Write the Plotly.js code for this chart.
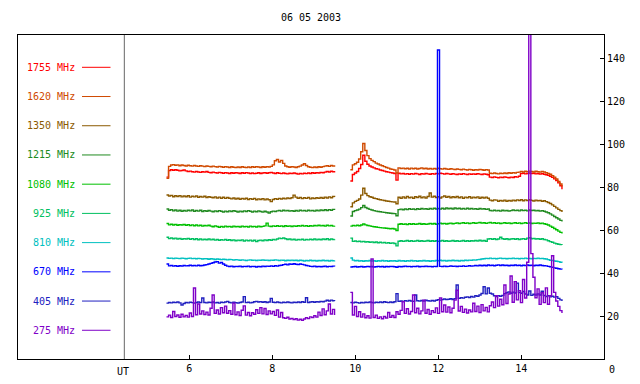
<!DOCTYPE html>
<html><head><meta charset="utf-8">
<script src="https://cdn.plot.ly/plotly-3.0.1.min.js"></script>
<style>html,body{margin:0;padding:0;background:#fff}#chart{width:640px;height:384px}</style>
</head><body><div id="chart"></div>
<script>
// ---- data ----
const freqLabels = ['1755 MHz','1620 MHz','1350 MHz','1215 MHz','1080 MHz','925 MHz','810 MHz','670 MHz','405 MHz','275 MHz'];
const seriesColors = ['#ff0000','#d04a00','#8b5a00','#208a20','#00c000','#00c060','#00c0c0','#0000ff','#2020c0','#7f00c8'];
const xTickVals = [6, 8, 10, 12, 14];
const yTickVals = [20, 40, 60, 80, 100, 120, 140];
const chartTitle = '06 05 2003';
const seg1Start = 5.45, seg2Start = 9.88, sampleStep = 0.05; // hours UT

// segment 1 (82 samples)
const s1_1755 = [84.6,87.7,88.0,87.8,88.0,87.8,87.5,87.7,87.9,87.5,
 87.2,87.4,87.1,86.9,87.2,87.0,86.8,87.1,86.9,87.2,
 86.8,86.6,86.9,86.7,86.5,86.8,86.6,86.4,86.7,86.5,
 86.3,86.6,86.4,86.7,86.5,86.3,86.6,86.4,86.7,86.5,
 86.3,86.5,86.2,86.4,86.6,86.3,86.5,86.7,86.4,86.6,
 86.8,86.5,86.3,86.6,86.4,86.2,86.5,86.3,86.1,86.4,
 86.2,86.5,86.3,86.0,86.3,86.1,86.4,86.2,86.5,86.3,
 86.6,86.4,86.7,86.5,86.8,86.6,86.9,87.2,87.0,87.3,
 87.1,87.4];
const s1_1620 = [84.0,89.6,90.2,90.4,90.1,90.3,89.9,90.2,90.0,89.8,
 90.1,89.9,89.7,90.0,89.8,89.6,89.9,89.7,89.5,89.8,
 89.6,89.4,89.7,89.5,89.3,89.6,89.4,89.2,89.5,89.3,
 89.1,89.4,89.2,89.0,89.3,89.1,89.4,89.2,89.0,89.3,
 89.1,89.4,89.2,89.5,89.3,89.1,89.4,89.2,89.5,89.3,
 89.6,90.3,92.2,92.8,91.6,92.4,91.0,89.8,89.4,89.2,
 89.5,89.3,89.1,89.4,89.7,90.2,90.8,90.0,89.4,89.2,
 89.0,89.3,89.1,89.4,89.2,89.5,89.7,89.9,89.6,90.0,
 89.8,90.1];
const s1_1350 = [76.3,75.8,76.1,75.5,75.9,75.6,76.0,75.4,75.8,75.5,
 75.9,75.3,75.7,75.4,75.8,75.2,75.6,75.3,75.7,75.1,
 75.5,75.2,75.0,75.4,74.9,75.3,74.8,75.2,74.7,75.1,
 74.8,74.5,74.9,74.4,74.8,74.3,74.7,74.4,74.8,74.2,
 74.6,74.3,74.7,74.1,74.5,74.2,74.6,74.0,74.4,74.1,
 73.2,74.2,74.6,74.3,74.7,74.4,74.8,74.5,74.9,74.6,
 75.0,76.2,75.3,74.8,75.1,74.6,75.0,74.7,75.1,74.5,
 74.9,74.6,75.0,74.7,75.1,74.8,75.3,74.9,75.4,75.0,
 75.6,75.3];
const s1_1215 = [69.8,69.2,69.5,68.9,69.3,68.8,69.2,68.7,69.1,68.8,
 69.2,68.9,69.3,68.7,69.1,68.8,69.2,68.6,69.0,68.7,
 69.1,68.8,68.5,68.9,68.6,69.0,68.7,68.4,68.8,68.5,
 68.9,68.6,69.0,68.7,68.4,68.8,68.5,68.9,68.6,69.0,
 68.7,68.4,68.8,68.5,68.9,68.6,68.3,68.7,68.4,67.9,
 68.5,68.8,68.6,68.9,69.1,68.8,69.2,68.9,69.1,68.8,
 69.0,68.7,69.1,68.8,69.2,68.9,69.1,68.8,69.2,68.9,
 69.1,68.8,69.2,68.9,69.3,69.0,69.4,69.1,69.5,69.2,
 69.6,69.3];
const s1_1080 = [63.0,62.4,62.7,62.3,62.6,62.2,62.5,62.3,62.6,62.2,
 62.5,62.1,62.4,62.0,62.3,61.9,62.2,61.8,62.1,61.9,
 62.2,61.8,61.5,61.9,61.6,61.3,61.7,61.4,61.8,61.5,
 61.7,61.4,61.8,61.5,61.7,61.4,61.8,61.5,61.7,61.4,
 61.8,61.5,61.7,61.4,61.8,61.5,61.7,61.9,63.2,61.8,
 61.6,61.9,61.7,62.0,61.7,61.9,61.6,62.0,61.7,61.9,
 61.6,61.9,61.7,62.0,61.8,62.1,61.8,62.0,61.7,62.0,
 61.8,62.1,61.9,62.2,61.9,62.1,61.8,62.2,61.9,62.1,
 61.8,62.0];
const s1_925 = [56.6,56.0,56.3,55.9,56.2,55.8,56.1,55.7,56.0,55.8,
 56.1,55.7,56.0,55.6,55.9,55.5,55.8,55.4,55.7,55.5,
 55.8,55.4,55.7,55.3,55.6,55.2,55.5,55.3,55.6,55.2,
 55.5,55.1,55.4,55.0,55.3,55.1,55.4,54.9,55.3,55.0,
 55.3,54.9,55.2,54.6,55.1,55.3,55.0,55.4,55.1,55.5,
 55.2,55.6,55.4,55.8,56.2,56.0,56.3,55.9,55.6,55.8,
 55.4,55.7,55.3,55.6,55.4,55.7,55.3,55.6,55.4,55.7,
 55.5,55.8,55.4,55.7,55.5,55.8,55.6,55.9,55.5,55.8,
 55.6,55.7];
const s1_810 = [47.0,46.8,46.9,46.7,46.9,46.8,46.7,46.9,46.8,46.6,
 46.8,46.9,46.7,46.8,46.6,46.8,46.7,46.5,46.7,46.6,
 46.4,46.6,46.5,46.3,46.5,46.4,46.2,46.4,46.3,46.1,
 46.3,46.2,46.0,46.2,46.1,45.9,46.1,46.0,45.8,46.0,
 46.1,45.9,46.0,45.8,46.0,45.9,46.1,45.9,46.0,45.8,
 46.0,45.9,46.1,46.0,45.8,46.0,45.9,45.7,45.9,45.8,
 46.0,45.8,45.9,45.7,45.9,45.8,45.6,45.8,45.7,45.9,
 45.7,45.8,45.6,45.8,45.7,45.9,45.7,45.8,45.6,45.8,
 45.7,45.8];
const s1_670 = [44.2,43.3,43.5,43.2,43.4,43.1,43.4,43.2,43.5,43.3,
 43.4,43.6,43.4,43.5,43.3,43.6,43.4,43.5,43.7,43.9,
 44.2,44.5,44.8,45.1,45.3,44.6,44.9,44.2,43.6,43.2,
 43.0,43.2,42.9,43.1,43.0,43.2,42.9,43.1,43.0,43.2,
 42.9,43.1,43.0,42.8,43.1,42.9,43.2,43.0,43.2,43.1,
 43.3,43.1,43.4,43.2,43.5,43.6,43.9,44.1,43.8,44.2,
 44.0,44.3,44.1,43.9,44.2,44.0,43.8,43.5,43.3,43.1,
 43.0,43.2,42.9,43.1,42.9,43.0,43.2,42.9,43.1,43.0,
 43.2,43.0];
const s1_405 = [26.0,26.3,26.1,26.4,26.2,26.5,26.1,25.1,25.8,26.3,
 26.1,26.4,26.2,26.0,26.3,26.5,26.2,28.4,26.3,26.1,
 26.4,26.2,26.5,26.1,26.3,26.0,26.4,26.2,26.5,26.8,
 26.3,26.1,26.4,26.2,26.0,26.3,26.5,29.0,26.2,26.4,
 26.1,26.3,26.6,26.8,26.5,26.7,26.4,26.6,26.3,26.5,
 28.2,26.4,26.2,26.5,26.3,26.1,26.4,26.2,26.5,26.3,
 26.1,26.4,26.2,26.5,26.3,26.6,26.4,28.5,26.3,26.5,
 26.6,26.4,26.7,26.5,26.8,26.6,26.9,27.3,27.0,27.4,
 27.1,27.0];
const s1_275 = [19.6,20.4,19.3,22.1,19.8,20.5,19.4,20.8,19.6,20.3,
 19.5,21.4,19.8,33.0,20.6,25.6,20.9,22.4,20.7,21.8,
 20.5,23.6,29.8,21.2,22.8,20.9,23.9,21.5,24.6,21.3,
 22.5,20.8,26.0,20.6,21.9,20.2,22.7,24.7,20.4,21.6,
 20.1,21.5,20.8,22.9,21.2,23.9,21.0,23.5,20.7,22.4,
 21.0,22.1,20.3,22.8,19.5,21.6,19.2,18.9,19.4,18.6,
 18.9,18.3,18.7,18.1,18.5,18.0,18.6,19.2,18.8,19.6,
 19.3,20.1,19.5,21.8,20.2,23.3,20.6,22.4,25.6,20.9,
 23.1,20.5];

// segment 2 (103 samples)
const s2_1755 = [82.8,85.8,86.5,87.2,88.6,90.5,94.8,92.0,90.6,89.8,
 89.3,88.9,88.5,88.3,87.9,87.7,87.4,87.1,86.9,86.7,
 86.5,86.3,83.2,86.4,86.1,86.3,86.0,86.2,85.9,86.2,
 86.0,86.3,86.1,85.8,86.2,86.0,86.3,86.1,85.9,86.2,
 86.0,86.3,86.1,86.4,86.2,86.0,86.3,86.1,85.9,86.2,
 86.0,85.8,86.1,85.9,86.2,86.0,85.8,86.1,85.9,86.1,
 85.9,86.2,86.0,85.8,86.1,85.9,85.7,84.6,84.4,84.7,
 84.5,84.3,84.6,84.4,84.7,84.5,84.3,84.6,84.4,84.8,
 84.6,85.0,86.2,86.4,86.1,86.3,86.5,86.2,86.4,86.1,
 86.3,86.0,86.2,85.9,85.7,85.4,85.0,84.5,83.8,83.0,
 81.9,80.6,79.0];
const s2_1620 = [88.0,90.3,90.8,91.5,93.0,96.4,100.2,97.0,94.6,93.2,
 92.4,91.8,91.1,90.7,90.2,89.9,89.5,89.1,88.8,88.4,
 88.2,87.9,86.5,88.9,88.6,88.8,88.5,88.7,88.4,88.8,
 88.5,88.7,88.4,88.6,88.9,88.5,88.7,88.4,88.6,88.3,
 88.6,88.4,88.7,88.5,88.3,88.6,88.4,88.2,88.5,88.3,
 88.1,88.4,88.2,88.0,88.3,88.1,87.9,88.2,88.0,87.8,
 88.1,87.9,88.2,88.0,87.8,88.1,87.9,86.4,86.2,86.5,
 86.3,86.1,86.4,86.2,86.5,86.3,86.6,86.4,86.7,86.5,
 86.8,86.9,87.2,87.0,87.3,87.1,87.4,87.2,87.0,87.3,
 87.1,86.9,87.2,87.0,86.6,86.3,85.9,85.3,84.6,83.7,
 82.6,81.4,80.2];
const s2_1350 = [70.8,72.6,73.3,73.8,74.4,76.2,79.4,77.0,76.0,75.5,
 75.2,74.8,74.6,74.3,74.1,73.9,73.7,73.5,73.4,73.2,
 73.1,73.0,72.2,75.2,74.8,75.4,74.9,75.6,75.0,75.3,
 74.8,75.5,75.1,75.7,75.0,75.4,74.9,75.6,77.2,75.3,
 75.7,75.1,75.5,74.9,75.4,75.8,75.2,75.6,75.0,75.5,
 75.1,75.6,75.0,75.4,74.8,75.3,75.0,75.5,74.9,75.3,
 75.0,75.4,74.8,75.2,74.9,75.3,74.8,73.9,73.6,74.0,
 73.9,73.4,73.8,73.5,73.9,73.4,73.8,73.5,73.9,73.6,
 74.0,73.7,74.1,73.6,74.0,73.7,74.1,73.8,73.5,73.9,
 73.6,73.8,73.4,73.6,73.2,72.8,72.3,71.7,71.0,70.3,
 69.6,69.0,68.4];
const s2_1215 = [66.5,68.6,69.0,69.3,69.7,70.4,71.4,70.5,70.0,69.6,
 69.3,69.0,68.8,68.6,68.5,68.3,68.2,68.0,67.9,67.8,
 67.7,67.6,66.6,69.5,69.7,69.4,69.8,69.5,69.9,69.6,
 69.8,69.5,69.9,69.6,70.0,69.7,69.9,69.6,70.0,69.7,
 70.1,69.8,70.0,69.7,70.1,69.8,70.2,69.9,70.1,69.8,
 70.2,69.9,70.1,69.8,70.0,69.7,70.1,69.8,70.0,69.7,
 69.9,69.6,70.0,69.7,69.9,69.6,69.8,69.1,68.9,69.2,
 68.9,69.1,68.8,69.2,68.9,69.1,68.8,69.0,69.3,69.0,
 69.2,68.9,69.3,69.0,69.2,68.9,69.3,69.0,69.2,68.9,
 69.1,68.8,69.0,68.7,68.4,68.0,67.5,66.9,66.3,65.7,
 65.1,64.5,63.9];
const s2_1080 = [61.8,62.1,61.9,62.2,62.0,62.3,62.8,62.4,62.1,61.9,
 61.7,61.5,61.4,61.2,61.1,61.0,60.9,60.8,60.7,60.6,
 60.7,60.5,59.8,62.7,62.9,62.6,62.8,62.5,62.9,62.7,
 62.9,62.6,62.8,63.0,62.7,62.9,62.6,62.8,63.1,62.8,
 63.0,62.7,62.9,63.2,62.9,63.1,62.8,63.0,63.2,62.9,
 63.1,63.3,63.0,63.2,63.4,63.1,63.3,63.0,63.2,63.4,
 63.1,63.3,63.5,63.2,63.4,63.1,63.3,63.5,63.2,63.4,
 63.1,63.3,63.0,63.2,63.4,63.1,63.3,63.0,63.2,63.4,
 63.1,63.3,63.0,63.2,63.4,63.1,63.3,63.0,63.2,63.1,
 63.3,63.0,63.2,62.9,62.7,62.3,61.8,61.3,60.7,60.1,
 59.5,58.9,58.4];
const s2_925 = [56.2,54.7,54.9,54.6,54.8,54.5,54.7,54.4,54.6,54.3,
 54.5,54.2,54.4,54.1,54.3,54.0,54.2,53.9,54.1,53.8,
 54.0,53.7,52.6,54.8,55.0,54.7,54.9,55.1,54.8,55.0,
 54.7,54.9,55.1,54.8,55.0,54.7,54.9,55.1,54.8,55.0,
 54.8,55.0,54.7,54.9,55.1,54.8,55.0,54.7,54.9,55.1,
 54.8,55.0,54.7,54.9,55.1,54.8,55.0,54.8,55.0,54.9,
 55.1,54.9,55.2,54.9,55.1,54.8,55.8,56.0,55.7,55.9,
 55.6,55.8,56.6,55.9,55.7,55.9,55.6,55.8,56.0,55.7,
 55.9,55.6,55.8,56.0,55.7,56.2,56.4,55.9,56.1,55.8,
 56.0,55.7,55.9,55.6,55.4,55.0,54.6,54.3,53.9,53.6,
 53.4,53.2,53.0];
const s2_810 = [47.0,46.0,45.7,45.8,45.6,45.7,45.5,45.7,45.6,45.8,
 45.6,45.7,45.5,45.7,45.6,45.8,45.6,45.7,45.5,45.7,
 45.6,45.7,45.4,45.8,45.6,45.7,45.5,45.7,45.6,45.8,
 45.6,45.7,45.5,45.7,45.6,45.8,45.6,45.7,45.5,45.7,
 45.6,45.8,45.7,45.9,45.7,45.8,45.6,45.8,45.7,45.9,
 45.7,45.8,45.6,45.8,45.7,45.9,45.8,46.0,45.9,46.1,
 46.0,46.2,46.3,46.5,46.6,46.8,46.7,46.9,46.7,46.8,
 46.6,46.8,46.9,46.7,46.8,46.6,46.8,46.7,46.9,46.7,
 46.8,46.6,46.8,46.7,46.9,46.7,46.8,46.6,46.8,46.7,
 46.9,46.7,46.8,46.6,46.5,46.2,45.9,45.8,45.6,45.5,
 45.3,45.0,44.8];
const s2_670 = [42.8,42.9,43.0,42.8,42.9,43.0,42.8,42.9,43.1,42.9,
 43.0,42.8,42.9,43.1,42.9,43.0,42.8,43.0,42.9,43.1,
 43.0,42.9,42.7,43.1,42.9,43.0,43.2,43.0,43.1,42.9,
 43.1,43.0,43.2,42.9,43.1,43.0,43.2,43.0,43.1,42.9,
 43.1,43.0,143.7,43.1,43.0,43.2,43.0,43.1,43.3,43.1,
 43.2,43.0,43.2,43.1,43.3,43.1,43.2,43.4,43.2,43.3,
 43.5,43.3,43.6,43.4,43.6,43.4,43.7,43.5,43.6,43.4,
 43.6,43.8,43.5,43.7,43.5,43.6,43.4,43.6,43.5,43.7,
 43.5,43.6,43.4,43.6,43.5,43.7,43.5,43.6,43.4,43.6,
 43.5,43.7,43.5,43.4,43.3,43.1,42.9,42.6,42.4,42.2,
 42.0,41.8,41.6];
const s2_405 = [26.3,26.1,26.4,26.2,26.0,26.3,26.1,26.4,26.2,26.5,
 26.3,26.1,26.4,26.2,26.5,26.3,26.6,26.4,26.2,26.5,
 26.3,26.6,30.4,26.8,27.0,26.7,27.1,26.9,27.2,27.0,
 26.8,29.8,27.1,26.9,27.2,27.0,27.3,27.1,26.9,27.2,
 27.0,27.3,27.6,27.4,27.7,27.9,27.6,27.8,28.0,27.7,
 28.1,34.4,28.2,28.5,28.3,28.7,28.9,28.6,29.1,28.8,
 29.4,29.2,29.8,30.5,33.6,30.3,33.0,30.6,30.2,29.4,
 29.1,29.5,29.2,29.6,30.4,30.8,31.2,30.6,31.1,30.7,
 35.3,31.0,30.6,31.4,30.2,29.8,31.6,29.6,30.1,29.7,
 30.3,29.8,31.5,29.6,29.1,29.4,28.9,29.2,28.8,29.0,
 28.2,27.5,27.0];
const s2_275 = [31.0,20.5,24.5,19.8,22.0,19.5,21.0,19.2,20.1,19.0,
 46.5,19.3,20.4,18.9,19.6,18.7,19.8,19.1,21.6,19.4,
 20.2,19.3,22.0,20.8,22.6,26.7,21.2,23.4,20.9,22.1,
 29.8,21.5,23.6,21.0,22.4,27.4,21.3,23.0,20.8,22.5,
 21.6,23.8,21.2,28.4,22.0,25.1,21.8,24.2,21.5,23.6,
 27.4,32.0,22.3,24.5,21.7,23.2,21.4,22.8,21.9,25.9,
 22.1,24.6,21.6,25.3,22.4,24.0,21.9,24.8,26.5,23.9,
 29.5,24.6,27.8,25.2,34.4,25.8,30.2,38.6,26.4,36.0,
 27.5,31.8,26.2,37.0,28.4,45.0,160.0,49.0,38.0,28.5,
 32.6,25.4,30.8,26.2,33.1,25.5,29.4,48.0,31.0,27.0,
 24.5,22.5,21.4];

const seg1Series = [s1_1755,s1_1620,s1_1350,s1_1215,s1_1080,s1_925,s1_810,s1_670,s1_405,s1_275];
const seg2Series = [s2_1755,s2_1620,s2_1350,s2_1215,s2_1080,s2_925,s2_810,s2_670,s2_405,s2_275];

// ---- build ----
const times = (start, n) => Array.from({length:n}, (_, i) => +(start + i*sampleStep).toFixed(3));
const traces = seg1Series.map((s1, k) => {
  const s2 = seg2Series[k];
  return {
    type: 'scatter', mode: 'lines',
    x: [...times(seg1Start, s1.length), null, ...times(seg2Start, s2.length)],
    y: [...s1, null, ...s2],
    connectgaps: false,
    line: {color: seriesColors[k], width: 1.4, shape: 'hv'},
    hoverinfo: 'skip'
  };
});

const W = 640, H = 384, ML = 18, MR = 36, MT = 35, MB = 25;
const PW = W - ML - MR, PH = H - MT - MB;
const px2paperX = px => (px - ML) / PW;
const py2paperY = py => 1 - (py - MT) / PH;
const mono = 'DejaVu Sans Mono, monospace';
const utX = 4.434;

const annotations = [];
const shapes = [];
freqLabels.forEach((lab, k) => {
  const py = 67.3 + k * 29.22;
  annotations.push({xref:'paper', yref:'paper', x: px2paperX(77), y: py2paperY(py),
    xanchor:'right', yanchor:'middle', text: lab, showarrow:false,
    font:{family:mono, size:10, color: seriesColors[k]}});
  shapes.push({type:'line', xref:'paper', yref:'paper', x0: px2paperX(82), x1: px2paperX(110.5),
    y0: py2paperY(py), y1: py2paperY(py), line:{color: seriesColors[k], width:1}});
});
shapes.push({type:'line', xref:'x', yref:'paper', x0: utX, x1: utX, y0: 0, y1: 1,
  line:{color:'#666666', width:1}});
annotations.push({xref:'x', yref:'paper', x: utX - 0.03, y: py2paperY(371), xanchor:'center', yanchor:'middle',
  text:'UT', showarrow:false, font:{family:mono, size:10, color:'#000'}});
annotations.push({xref:'paper', yref:'paper', x: px2paperX(607), y: py2paperY(369), xanchor:'left', yanchor:'middle',
  text:'0', showarrow:false, font:{family:mono, size:10, color:'#000'}});

const layout = {
  width: W, height: H,
  margin: {l: ML, r: MR, t: MT, b: MB, pad: 0},
  paper_bgcolor: '#ffffff', plot_bgcolor: '#ffffff',
  showlegend: false,
  font: {family: mono, size: 10, color: '#000'},
  title: {text: chartTitle, xref:'paper', x: 0.5, xanchor:'center', yref:'container', y: 1 - 17/H, yanchor:'middle',
    font: {family: mono, size: 10, color: '#000'}},
  xaxis: {range: [1.872, 15.993], tickmode:'array', tickvals: xTickVals, ticktext: xTickVals.map(String),
    ticks:'inside', ticklen: 4, tickwidth: 1, tickcolor:'#000',
    showline: true, mirror: true, linecolor:'#000', linewidth: 1,
    showgrid: false, zeroline: false, fixedrange: true,
    tickfont: {family: mono, size: 10, color:'#000'}},
  yaxis: {range: [0, 150.7], side:'right', tickmode:'array', tickvals: yTickVals, ticktext: yTickVals.map(String),
    ticks:'inside', ticklen: 4, tickwidth: 1, tickcolor:'#000',
    showline: true, mirror: true, linecolor:'#000', linewidth: 1,
    showgrid: false, zeroline: false, fixedrange: true,
    tickfont: {family: mono, size: 10, color:'#000'}},
  shapes: shapes,
  annotations: annotations
};

Plotly.newPlot('chart', traces, layout, {staticPlot: true, displayModeBar: false});
</script>
</body></html>
